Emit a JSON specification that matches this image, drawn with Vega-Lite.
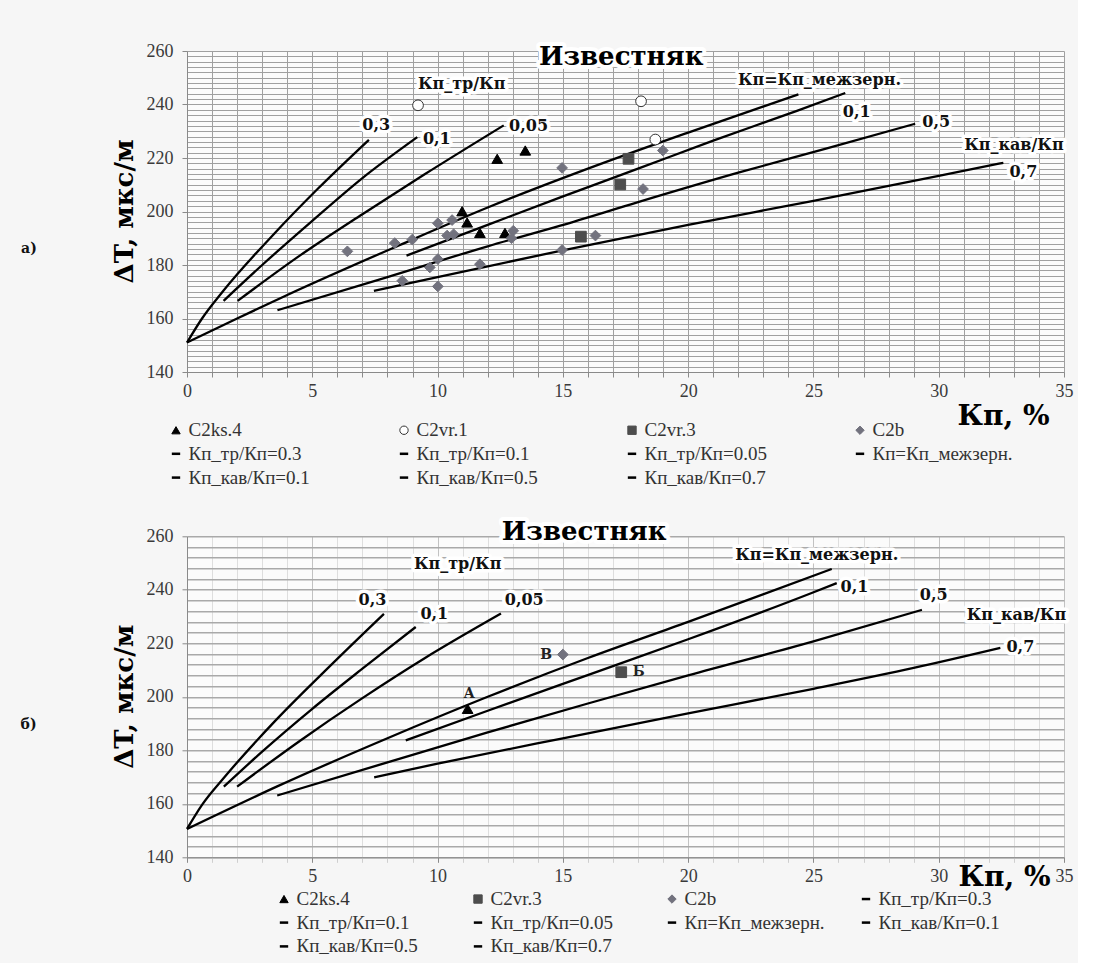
{
  "$schema": "https://vega.github.io/schema/vega-lite/v6.json",
  "background": "#f6f6f6",
  "padding": {"left": 20, "top": 42, "right": 5, "bottom": 5},
  "spacing": 29.3,
  "datasets": {
    "a_points": [
      {"series": "C2ks.4", "x": 12.38, "y": 219.7},
      {"series": "C2ks.4", "x": 13.5, "y": 222.8},
      {"series": "C2ks.4", "x": 10.98, "y": 200.1},
      {"series": "C2ks.4", "x": 11.18, "y": 195.9},
      {"series": "C2ks.4", "x": 11.69, "y": 192.0},
      {"series": "C2ks.4", "x": 12.69, "y": 192.0},
      {"series": "C2vr.1", "x": 9.22, "y": 239.7},
      {"series": "C2vr.1", "x": 18.12, "y": 241.2},
      {"series": "C2vr.1", "x": 18.69, "y": 226.9},
      {"series": "C2vr.3", "x": 17.62, "y": 219.7},
      {"series": "C2vr.3", "x": 17.29, "y": 210.1},
      {"series": "C2vr.3", "x": 15.72, "y": 190.6},
      {"series": "C2b", "x": 6.4, "y": 185.1},
      {"series": "C2b", "x": 8.29, "y": 188.2},
      {"series": "C2b", "x": 8.99, "y": 189.5},
      {"series": "C2b", "x": 10.01, "y": 195.6},
      {"series": "C2b", "x": 10.58, "y": 196.8},
      {"series": "C2b", "x": 10.38, "y": 191.0},
      {"series": "C2b", "x": 10.64, "y": 191.5},
      {"series": "C2b", "x": 8.59, "y": 174.1},
      {"series": "C2b", "x": 9.69, "y": 179.1},
      {"series": "C2b", "x": 10.01, "y": 182.2},
      {"series": "C2b", "x": 10.01, "y": 172.0},
      {"series": "C2b", "x": 11.69, "y": 180.3},
      {"series": "C2b", "x": 13.02, "y": 192.8},
      {"series": "C2b", "x": 12.95, "y": 190.0},
      {"series": "C2b", "x": 14.97, "y": 216.3},
      {"series": "C2b", "x": 14.97, "y": 185.6},
      {"series": "C2b", "x": 16.3, "y": 191.0},
      {"series": "C2b", "x": 18.2, "y": 208.4},
      {"series": "C2b", "x": 18.99, "y": 222.8}
    ],
    "a_curves": [
      {"series": "Кп_тр/Кп=0.3", "x": 0, "y": 151},
      {"series": "Кп_тр/Кп=0.3", "x": 0.6, "y": 160},
      {"series": "Кп_тр/Кп=0.3", "x": 1.42, "y": 170},
      {"series": "Кп_тр/Кп=0.3", "x": 3.48, "y": 191.7},
      {"series": "Кп_тр/Кп=0.3", "x": 5.21, "y": 208.4},
      {"series": "Кп_тр/Кп=0.3", "x": 7.26, "y": 226.8},
      {"series": "Кп_тр/Кп=0.1", "x": 1.46, "y": 166.6},
      {"series": "Кп_тр/Кп=0.1", "x": 3, "y": 180},
      {"series": "Кп_тр/Кп=0.1", "x": 5, "y": 196.5},
      {"series": "Кп_тр/Кп=0.1", "x": 7, "y": 212.5},
      {"series": "Кп_тр/Кп=0.1", "x": 9.19, "y": 227.8},
      {"series": "Кп_тр/Кп=0.05", "x": 2.02, "y": 166.6},
      {"series": "Кп_тр/Кп=0.05", "x": 4.5, "y": 183.5},
      {"series": "Кп_тр/Кп=0.05", "x": 7, "y": 199},
      {"series": "Кп_тр/Кп=0.05", "x": 9.5, "y": 214},
      {"series": "Кп_тр/Кп=0.05", "x": 12.64, "y": 232.2},
      {"series": "Кп=Кп_межзерн.", "x": 0, "y": 151},
      {"series": "Кп=Кп_межзерн.", "x": 2, "y": 160},
      {"series": "Кп=Кп_межзерн.", "x": 4, "y": 168.8},
      {"series": "Кп=Кп_межзерн.", "x": 8.5, "y": 187.5},
      {"series": "Кп=Кп_межзерн.", "x": 12, "y": 201.5},
      {"series": "Кп=Кп_межзерн.", "x": 16, "y": 216},
      {"series": "Кп=Кп_межзерн.", "x": 20, "y": 229.5},
      {"series": "Кп=Кп_межзерн.", "x": 24.4, "y": 243.8},
      {"series": "Кп_кав/Кп=0.1", "x": 8.76, "y": 183.5},
      {"series": "Кп_кав/Кп=0.1", "x": 12, "y": 195},
      {"series": "Кп_кав/Кп=0.1", "x": 14.9, "y": 205.3},
      {"series": "Кп_кав/Кп=0.1", "x": 18, "y": 216},
      {"series": "Кп_кав/Кп=0.1", "x": 21, "y": 226.5},
      {"series": "Кп_кав/Кп=0.1", "x": 24.34, "y": 237.6},
      {"series": "Кп_кав/Кп=0.1", "x": 26.27, "y": 244.3},
      {"series": "Кп_кав/Кп=0.5", "x": 3.61, "y": 163.1},
      {"series": "Кп_кав/Кп=0.5", "x": 8, "y": 175.5},
      {"series": "Кп_кав/Кп=0.5", "x": 12, "y": 187},
      {"series": "Кп_кав/Кп=0.5", "x": 14.9, "y": 194.7},
      {"series": "Кп_кав/Кп=0.5", "x": 18, "y": 203.5},
      {"series": "Кп_кав/Кп=0.5", "x": 22, "y": 214.5},
      {"series": "Кп_кав/Кп=0.5", "x": 25.5, "y": 223.5},
      {"series": "Кп_кав/Кп=0.5", "x": 29.06, "y": 232.8},
      {"series": "Кп_кав/Кп=0.7", "x": 7.46, "y": 170.3},
      {"series": "Кп_кав/Кп=0.7", "x": 10, "y": 175.5},
      {"series": "Кп_кав/Кп=0.7", "x": 14.9, "y": 185.3},
      {"series": "Кп_кав/Кп=0.7", "x": 20, "y": 195},
      {"series": "Кп_кав/Кп=0.7", "x": 25, "y": 204},
      {"series": "Кп_кав/Кп=0.7", "x": 30, "y": 213.3},
      {"series": "Кп_кав/Кп=0.7", "x": 32.58, "y": 218.2}
    ],
    "a_labels": [
      {"x": 10.96, "y": 247.8, "text": "Кп_тр/Кп"},
      {"x": 7.55, "y": 232.2, "text": "0,3"},
      {"x": 9.97, "y": 227.2, "text": "0,1"},
      {"x": 13.63, "y": 231.8, "text": "0,05"},
      {"x": 25.24, "y": 249.0, "text": "Кп=Кп_межзерн."},
      {"x": 26.73, "y": 237.1, "text": "0,1"},
      {"x": 29.9, "y": 233.4, "text": "0,5"},
      {"x": 33.0, "y": 225.0, "text": "Кп_кав/Кп"},
      {"x": 33.38, "y": 214.7, "text": "0,7"}
    ],
    "a_title": [
      {"x": 17.33, "y": 257.8, "text": "Известняк"}
    ],
    "b_points": [
      {"series": "C2ks.4", "x": 11.2, "y": 195.5},
      {"series": "C2b", "x": 15.0, "y": 215.8},
      {"series": "C2vr.3", "x": 17.33, "y": 209.2}
    ],
    "b_curves": [
      {"series": "Кп_тр/Кп=0.3", "x": 0, "y": 150.6},
      {"series": "Кп_тр/Кп=0.3", "x": 0.6, "y": 159.6},
      {"series": "Кп_тр/Кп=0.3", "x": 1.5, "y": 170},
      {"series": "Кп_тр/Кп=0.3", "x": 3.5, "y": 190.8},
      {"series": "Кп_тр/Кп=0.3", "x": 5.5, "y": 209.6},
      {"series": "Кп_тр/Кп=0.3", "x": 7.86, "y": 231},
      {"series": "Кп_тр/Кп=0.1", "x": 1.47, "y": 166.4},
      {"series": "Кп_тр/Кп=0.1", "x": 3, "y": 179.5},
      {"series": "Кп_тр/Кп=0.1", "x": 5, "y": 195.5},
      {"series": "Кп_тр/Кп=0.1", "x": 7, "y": 210.5},
      {"series": "Кп_тр/Кп=0.1", "x": 9.13, "y": 226.1},
      {"series": "Кп_тр/Кп=0.05", "x": 2.0, "y": 166.4},
      {"series": "Кп_тр/Кп=0.05", "x": 4.5, "y": 183.5},
      {"series": "Кп_тр/Кп=0.05", "x": 7, "y": 199.5},
      {"series": "Кп_тр/Кп=0.05", "x": 9.5, "y": 214.5},
      {"series": "Кп_тр/Кп=0.05", "x": 12.53, "y": 231.1},
      {"series": "Кп=Кп_межзерн.", "x": 0, "y": 150.6},
      {"series": "Кп=Кп_межзерн.", "x": 3.6, "y": 166.5},
      {"series": "Кп=Кп_межзерн.", "x": 8, "y": 184.5},
      {"series": "Кп=Кп_межзерн.", "x": 12, "y": 200},
      {"series": "Кп=Кп_межзерн.", "x": 16, "y": 214.5},
      {"series": "Кп=Кп_межзерн.", "x": 20, "y": 228},
      {"series": "Кп=Кп_межзерн.", "x": 25.73, "y": 247.8},
      {"series": "Кп_кав/Кп=0.1", "x": 8.73, "y": 183.7},
      {"series": "Кп_кав/Кп=0.1", "x": 12, "y": 194.8},
      {"series": "Кп_кав/Кп=0.1", "x": 16.13, "y": 208.6},
      {"series": "Кп_кав/Кп=0.1", "x": 20, "y": 221.5},
      {"series": "Кп_кав/Кп=0.1", "x": 24.93, "y": 238.8},
      {"series": "Кп_кав/Кп=0.1", "x": 25.93, "y": 242.5},
      {"series": "Кп_кав/Кп=0.5", "x": 3.6, "y": 163.1},
      {"series": "Кп_кав/Кп=0.5", "x": 8, "y": 175.5},
      {"series": "Кп_кав/Кп=0.5", "x": 12, "y": 186.7},
      {"series": "Кп_кав/Кп=0.5", "x": 16, "y": 197.5},
      {"series": "Кп_кав/Кп=0.5", "x": 20, "y": 208},
      {"series": "Кп_кав/Кп=0.5", "x": 24.93, "y": 220.5},
      {"series": "Кп_кав/Кп=0.5", "x": 29.33, "y": 232.5},
      {"series": "Кп_кав/Кп=0.7", "x": 7.47, "y": 169.9},
      {"series": "Кп_кав/Кп=0.7", "x": 10, "y": 175},
      {"series": "Кп_кав/Кп=0.7", "x": 15, "y": 184.5},
      {"series": "Кп_кав/Кп=0.7", "x": 20, "y": 193.8},
      {"series": "Кп_кав/Кп=0.7", "x": 25, "y": 203},
      {"series": "Кп_кав/Кп=0.7", "x": 29, "y": 210.8},
      {"series": "Кп_кав/Кп=0.7", "x": 32.46, "y": 218.3}
    ],
    "b_labels": [
      {"x": 10.8, "y": 249.8, "text": "Кп_тр/Кп"},
      {"x": 7.4, "y": 236.3, "text": "0,3"},
      {"x": 9.87, "y": 231.1, "text": "0,1"},
      {"x": 13.46, "y": 236.3, "text": "0,05"},
      {"x": 25.13, "y": 252.9, "text": "Кп=Кп_межзерн."},
      {"x": 26.64, "y": 241.0, "text": "0,1"},
      {"x": 29.8, "y": 237.9, "text": "0,5"},
      {"x": 33.1, "y": 230.4, "text": "Кп_кав/Кп"},
      {"x": 33.26, "y": 218.6, "text": "0,7"}
    ],
    "b_title": [
      {"x": 15.85, "y": 261.5, "text": "Известняк"}
    ],
    "b_ptlabels": [
      {"x": 11.26, "y": 201.1, "text": "А"},
      {"x": 14.33, "y": 215.8, "text": "В"},
      {"x": 18.03, "y": 209.2, "text": "Б"}
    ]
  },
  "vconcat": [
    {
      "title": {"text": "а)", "orient": "left", "angle": 0, "align": "right", "baseline": "middle", "anchor": "middle", "offset": 58.5, "dy": -16, "font": "DejaVu Serif", "fontSize": 14, "fontWeight": "bold", "color": "#111"},
      "hconcat": [
        {
          "width": 877,
          "height": 321,
          "encoding": {
            "x": {"field": "x", "type": "quantitative", "title": "Кп, %",
              "scale": {"domain": [0, 35], "nice": false, "zero": false},
              "axis": {"values": [0,1,2,3,4,5,6,7,8,9,10,11,12,13,14,15,16,17,18,19,20,21,22,23,24,25,26,27,28,29,30,31,32,33,34,35],
                "labelExpr": "datum.value % 5 === 0 ? datum.label : ''", "labelOverlap": false, "labelFlush": false,
                "grid": true, "gridColor": "#a0a0a0", "gridWidth": 1, "tickSize": 5, "labelPadding": 5,
                "titleFontSize": 28, "titleAlign": "right", "titleAnchor": "end", "titleX": 862, "titleY": 52, "titleBaseline": "alphabetic"}},
            "y": {"field": "y", "type": "quantitative", "title": "ΔT, мкс/м",
              "scale": {"domain": [140, 260], "nice": false, "zero": false},
              "axis": {"values": [140,142,144,146,148,150,152,154,156,158,160,162,164,166,168,170,172,174,176,178,180,182,184,186,188,190,192,194,196,198,200,202,204,206,208,210,212,214,216,218,220,222,224,226,228,230,232,234,236,238,240,242,244,246,248,250,252,254,256,258,260],
                "labelExpr": "datum.value % 20 === 0 ? datum.label : ''", "labelOverlap": false, "labelFlush": false,
                "grid": true, "gridColor": "#a0a0a0", "gridWidth": 1,
                "tickColor": {"condition": {"test": "datum.value % 20 === 0", "value": "#8a8a8a"}, "value": "transparent"},
                "tickSize": 5, "labelPadding": 9,
                "titleFontSize": 26, "titleX": -55, "titleY": 160, "titleBaseline": "alphabetic"}}
          },
          "layer": [
            {"data": {"name": "a_curves"}, "mark": {"type": "line", "color": "#000", "strokeWidth": 2.3, "interpolate": "monotone"},
             "encoding": {"detail": {"field": "series"}}},
            {"data": {"name": "a_labels"}, "mark": {"type": "text", "font": "DejaVu Serif", "fontSize": 16, "fontWeight": "bold", "fill": "#ffffff", "stroke": "#ffffff", "strokeWidth": 7, "strokeJoin": "round", "align": "center", "baseline": "middle"},
             "encoding": {"text": {"field": "text"}}},
            {"data": {"name": "a_labels"}, "mark": {"type": "text", "font": "DejaVu Serif", "fontSize": 16, "fontWeight": "bold", "fill": "#111111", "align": "center", "baseline": "middle"},
             "encoding": {"text": {"field": "text"}}},
            {"data": {"name": "a_title"}, "mark": {"type": "text", "font": "DejaVu Serif", "fontSize": 26, "fontWeight": "bold", "fill": "#ffffff", "stroke": "#ffffff", "strokeWidth": 8, "strokeJoin": "round", "align": "center", "baseline": "middle", "clip": false},
             "encoding": {"text": {"field": "text"}}},
            {"data": {"name": "a_title"}, "mark": {"type": "text", "font": "DejaVu Serif", "fontSize": 26, "fontWeight": "bold", "fill": "#000000", "align": "center", "baseline": "middle", "clip": false},
             "encoding": {"text": {"field": "text"}}},
            {"data": {"name": "a_points"}, "mark": {"type": "point", "size": 115, "opacity": 1, "strokeWidth": 1, "filled": true},
             "encoding": {
               "shape": {"field": "series", "type": "nominal",
                 "scale": {"domain": ["C2ks.4","C2vr.1","C2vr.3","C2b","Кп_тр/Кп=0.3","Кп_тр/Кп=0.1","Кп_тр/Кп=0.05","Кп=Кп_межзерн.","Кп_кав/Кп=0.1","Кп_кав/Кп=0.5","Кп_кав/Кп=0.7"],
                   "range": ["triangle-up","circle","square","diamond","M-1,-0.3H1V0.3H-1Z","M-1,-0.3H1V0.3H-1Z","M-1,-0.3H1V0.3H-1Z","M-1,-0.3H1V0.3H-1Z","M-1,-0.3H1V0.3H-1Z","M-1,-0.3H1V0.3H-1Z","M-1,-0.3H1V0.3H-1Z"]},
                 "legend": {"orient": "none", "legendX": -20.5, "legendY": 369.5, "columns": 4, "direction": "horizontal", "title": null, "columnPadding": 65, "labelFont": "Liberation Serif", "labelFontSize": 19}},
               "fill": {"field": "series", "type": "nominal",
                 "scale": {"domain": ["C2ks.4","C2vr.1","C2vr.3","C2b","Кп_тр/Кп=0.3","Кп_тр/Кп=0.1","Кп_тр/Кп=0.05","Кп=Кп_межзерн.","Кп_кав/Кп=0.1","Кп_кав/Кп=0.5","Кп_кав/Кп=0.7"],
                   "range": ["#000000","#ffffff","#4d4d4d","#72727e","#000000","#000000","#000000","#000000","#000000","#000000","#000000"]},
                 "legend": {"orient": "none", "legendX": -20.5, "legendY": 369.5, "columns": 4, "direction": "horizontal", "title": null, "columnPadding": 65, "labelFont": "Liberation Serif", "labelFontSize": 19}},
               "stroke": {"field": "series", "type": "nominal",
                 "scale": {"domain": ["C2ks.4","C2vr.1","C2vr.3","C2b","Кп_тр/Кп=0.3","Кп_тр/Кп=0.1","Кп_тр/Кп=0.05","Кп=Кп_межзерн.","Кп_кав/Кп=0.1","Кп_кав/Кп=0.5","Кп_кав/Кп=0.7"],
                   "range": ["#000000","#333333","#4d4d4d","#72727e","transparent","transparent","transparent","transparent","transparent","transparent","transparent"]},
                 "legend": {"orient": "none", "legendX": -20.5, "legendY": 369.5, "columns": 4, "direction": "horizontal", "title": null, "columnPadding": 65, "labelFont": "Liberation Serif", "labelFontSize": 19}}
             }}
          ]
        }
      ]
    },
    {
      "title": {"text": "б)", "orient": "left", "angle": 0, "align": "right", "baseline": "middle", "anchor": "middle", "offset": 58.5, "dy": -13, "font": "DejaVu Serif", "fontSize": 14, "fontWeight": "bold", "color": "#111"},
      "hconcat": [
        {
          "width": 877,
          "height": 321,
          "encoding": {
            "x": {"field": "x", "type": "quantitative", "title": "Кп, %",
              "scale": {"domain": [0, 35], "nice": false, "zero": false},
              "axis": {"values": [0,1,2,3,4,5,6,7,8,9,10,11,12,13,14,15,16,17,18,19,20,21,22,23,24,25,26,27,28,29,30,31,32,33,34,35],
                "labelExpr": "datum.value % 5 === 0 ? datum.label : ''", "labelOverlap": false, "labelFlush": false,
                "grid": true, "gridColor": {"condition": {"test": "datum.value % 5 === 0", "value": "#c2c2c2"}, "value": "#dedede"}, "gridWidth": 1,
                "tickColor": {"condition": {"test": "datum.value % 5 === 0", "value": "#8a8a8a"}, "value": "#cfcfcf"},
                "tickSize": 5, "labelPadding": 5,
                "titleFontSize": 28, "titleAlign": "right", "titleAnchor": "end", "titleX": 863, "titleY": 28.5, "titleBaseline": "alphabetic"}},
            "y": {"field": "y", "type": "quantitative", "title": "ΔT, мкс/м",
              "scale": {"domain": [140, 260], "nice": false, "zero": false},
              "axis": {"values": [140,144,148,152,156,160,164,168,172,176,180,184,188,192,196,200,204,208,212,216,220,224,228,232,236,240,244,248,252,256,260],
                "labelExpr": "datum.value % 20 === 0 ? datum.label : ''", "labelOverlap": false, "labelFlush": false,
                "grid": true, "gridColor": "#a9a9a9", "gridWidth": 1.6,
                "tickColor": {"condition": {"test": "datum.value % 20 === 0", "value": "#8a8a8a"}, "value": "transparent"},
                "tickSize": 5, "labelPadding": 9,
                "titleFontSize": 26, "titleX": -55, "titleY": 160, "titleBaseline": "alphabetic"}}
          },
          "layer": [
            {"data": {"name": "b_curves"}, "mark": {"type": "line", "color": "#000", "strokeWidth": 2.3, "interpolate": "monotone"},
             "encoding": {"detail": {"field": "series"}}},
            {"data": {"name": "b_labels"}, "mark": {"type": "text", "font": "DejaVu Serif", "fontSize": 16, "fontWeight": "bold", "fill": "#ffffff", "stroke": "#ffffff", "strokeWidth": 7, "strokeJoin": "round", "align": "center", "baseline": "middle"},
             "encoding": {"text": {"field": "text"}}},
            {"data": {"name": "b_labels"}, "mark": {"type": "text", "font": "DejaVu Serif", "fontSize": 16, "fontWeight": "bold", "fill": "#111111", "align": "center", "baseline": "middle"},
             "encoding": {"text": {"field": "text"}}},
            {"data": {"name": "b_title"}, "mark": {"type": "text", "font": "DejaVu Serif", "fontSize": 26, "fontWeight": "bold", "fill": "#ffffff", "stroke": "#ffffff", "strokeWidth": 8, "strokeJoin": "round", "align": "center", "baseline": "middle", "clip": false},
             "encoding": {"text": {"field": "text"}}},
            {"data": {"name": "b_title"}, "mark": {"type": "text", "font": "DejaVu Serif", "fontSize": 26, "fontWeight": "bold", "fill": "#000000", "align": "center", "baseline": "middle", "clip": false},
             "encoding": {"text": {"field": "text"}}},
            {"data": {"name": "b_ptlabels"}, "mark": {"type": "text", "font": "DejaVu Serif", "fontSize": 14, "fontWeight": "bold", "fill": "#222222", "align": "center", "baseline": "middle"},
             "encoding": {"text": {"field": "text"}}},
            {"data": {"name": "b_points"}, "mark": {"type": "point", "size": 115, "opacity": 1, "strokeWidth": 1, "filled": true},
             "encoding": {
               "shape": {"field": "series", "type": "nominal",
                 "scale": {"domain": ["C2ks.4","C2vr.3","C2b","Кп_тр/Кп=0.3","Кп_тр/Кп=0.1","Кп_тр/Кп=0.05","Кп=Кп_межзерн.","Кп_кав/Кп=0.1","Кп_кав/Кп=0.5","Кп_кав/Кп=0.7"],
                   "range": ["triangle-up","square","diamond","M-1,-0.3H1V0.3H-1Z","M-1,-0.3H1V0.3H-1Z","M-1,-0.3H1V0.3H-1Z","M-1,-0.3H1V0.3H-1Z","M-1,-0.3H1V0.3H-1Z","M-1,-0.3H1V0.3H-1Z","M-1,-0.3H1V0.3H-1Z"]},
                 "legend": {"orient": "none", "legendX": 87.5, "legendY": 353, "columns": 4, "direction": "horizontal", "title": null, "columnPadding": 31, "labelFont": "Liberation Serif", "labelFontSize": 19}},
               "fill": {"field": "series", "type": "nominal",
                 "scale": {"domain": ["C2ks.4","C2vr.3","C2b","Кп_тр/Кп=0.3","Кп_тр/Кп=0.1","Кп_тр/Кп=0.05","Кп=Кп_межзерн.","Кп_кав/Кп=0.1","Кп_кав/Кп=0.5","Кп_кав/Кп=0.7"],
                   "range": ["#000000","#4d4d4d","#72727e","#000000","#000000","#000000","#000000","#000000","#000000","#000000"]},
                 "legend": {"orient": "none", "legendX": 87.5, "legendY": 353, "columns": 4, "direction": "horizontal", "title": null, "columnPadding": 31, "labelFont": "Liberation Serif", "labelFontSize": 19}},
               "stroke": {"field": "series", "type": "nominal",
                 "scale": {"domain": ["C2ks.4","C2vr.3","C2b","Кп_тр/Кп=0.3","Кп_тр/Кп=0.1","Кп_тр/Кп=0.05","Кп=Кп_межзерн.","Кп_кав/Кп=0.1","Кп_кав/Кп=0.5","Кп_кав/Кп=0.7"],
                   "range": ["#000000","#4d4d4d","#72727e","transparent","transparent","transparent","transparent","transparent","transparent","transparent"]},
                 "legend": {"orient": "none", "legendX": 87.5, "legendY": 353, "columns": 4, "direction": "horizontal", "title": null, "columnPadding": 31, "labelFont": "Liberation Serif", "labelFontSize": 19}}
             }}
          ]
        }
      ]
    }
  ],
  "resolve": {"scale": {"x": "independent", "y": "independent", "shape": "independent", "fill": "independent", "stroke": "independent"}},
  "config": {
    "font": "DejaVu Serif",
    "view": {"stroke": null, "fill": "#fbfbfb"},
    "axis": {"domainColor": "#8a8a8a", "tickColor": "#8a8a8a", "labelFont": "Liberation Serif", "labelFontSize": 18, "labelColor": "#3a3a3a", "titleFont": "DejaVu Serif", "titleColor": "#000000", "titleFontWeight": "bold"},
    "legend": {"labelFont": "Liberation Serif", "labelFontSize": 19, "labelColor": "#333333", "symbolSize": 70, "labelOffset": 3, "labelLimit": 400, "rowPadding": 3.8, "gridAlign": "all", "symbolStrokeWidth": 1}
  }
}
